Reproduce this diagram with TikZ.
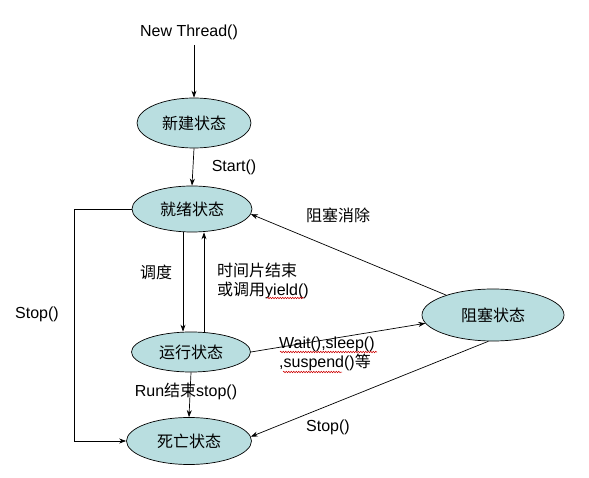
\documentclass[tikz,border=0pt]{standalone}
\usepackage{fontspec}
\setmainfont{Liberation Sans}
\newfontfamily\cjk{Noto Sans CJK SC}
\usetikzlibrary{shapes.geometric,arrows.meta,decorations.pathmorphing}
\definecolor{statefill}{RGB}{185,222,224}
\begin{document}
\begin{tikzpicture}[x=1pt,y=-1pt,
  state/.style={ellipse,draw=black,line width=0.7pt,fill=statefill,inner sep=0pt,font=\cjk\fontsize{16}{19}\selectfont},
  lbl/.style={inner sep=0pt,font=\fontsize{16}{19}\selectfont},
  conn/.style={draw=black,line width=0.7pt,-{Stealth[length=7pt,width=5pt]}},
  squig/.style={draw=red!80!black,line width=0.5pt,decorate,decoration={snake,amplitude=0.8pt,segment length=2.5pt}}]
\useasboundingbox (0,0) rectangle (589,478);
\node[state,minimum width=114pt,minimum height=50pt] (new) at (194,123) {新建状态};
\node[state,minimum width=120pt,minimum height=46pt] (ready) at (192,209) {就绪状态};
\node[state,minimum width=119pt,minimum height=40pt] (run) at (191,352) {运行状态};
\node[state,minimum width=125pt,minimum height=47pt] (dead) at (189,441) {死亡状态};
\node[state,minimum width=142pt,minimum height=52pt] (block) at (493,315) {阻塞状态};

\node[lbl] (nt) at (189,32) {New Thread()};
\node[lbl] (start) at (234,167) {Start()};
\node[lbl,font=\cjk\fontsize{16}{19}\selectfont] (sched) at (156,272) {调度};
\node[lbl,anchor=west,align=left] (slice) at (217,281) {{\cjk 时间片结束}\\{\cjk 或调用}yield()};
\node[lbl] (stopl) at (37,314) {Stop()};
\node[lbl] (runend) at (186,391) {Run{\cjk 结束}stop()};
\node[lbl,font=\cjk\fontsize{16}{19}\selectfont] (unblock) at (338,215) {阻塞消除};
\node[lbl,anchor=west,align=left] (wait) at (279,354) {Wait(),sleep()\\,suspend(){\cjk 等}};
\node[lbl] (stopr) at (328,427) {Stop()};

\coordinate (ntb) at (194,45);
\coordinate (lft) at (74,0);
\draw[conn] (ntb) -- (new.north);
\draw[conn] (new.south) -- (ready.north);
\draw[conn] ([xshift=-9pt]ready.south) -- ([xshift=-8pt]run.north);
\draw[conn] ([xshift=13pt]run.north) -- ([xshift=12pt]ready.south);
\draw[conn] (ready.west) -- (ready.west -| lft) |- (dead.west);
\draw[conn] (run.south) -- (dead.north);
\draw[conn] (run.east) -- (block.187);
\draw[conn] (block.157) -- (ready.-5);
\draw[conn] (block.-100) -- (dead.4);

\draw[squig] (267,298) -- (304,298);
\draw[squig] (280,352) -- (377,352);
\draw[squig] (283,372) -- (342,372);
\end{tikzpicture}
\end{document}
